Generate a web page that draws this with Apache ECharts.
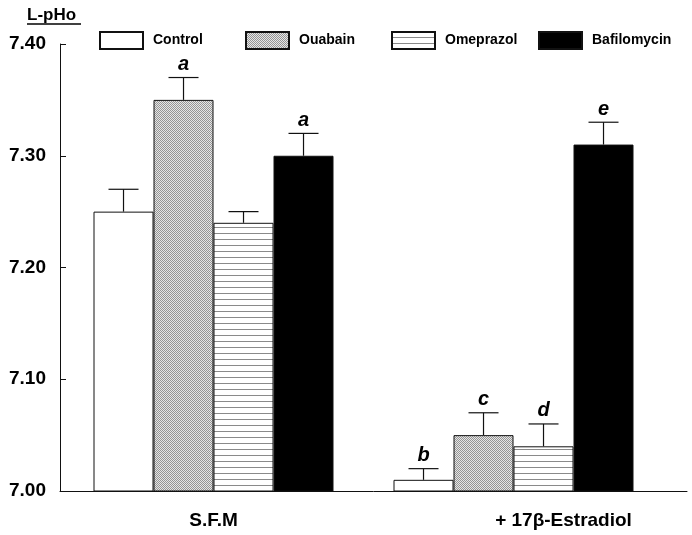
<!DOCTYPE html>
<html>
<head>
<meta charset="utf-8">
<script src="https://cdn.jsdelivr.net/npm/echarts@6/dist/echarts.min.js"></script>
<style>
  html, body { margin: 0; padding: 0; background: #fff; }
  #chart { width: 692px; height: 535px; }
</style>
</head>
<body>
<div id="chart"></div>
<script>
// groups sit at positions 1 and 2 on the x axis
const groups = ['S.F.M', '+ 17β-Estradiol']
const groupPos = [1, 2]
const seriesNames = ['Control', 'Ouabain', 'Omeprazol', 'Bafilomycin']

const control = [7.25, 7.01]
const ouabain = [7.35, 7.05]
const omeprazol = [7.24, 7.04]
const bafilomycin = [7.30, 7.31]

const controlErr = [0.02, 0.01]
const ouabainErr = [0.02, 0.02]
const omeprazolErr = [0.01, 0.02]
const bafilomycinErr = [0.02, 0.02]

const controlSig = ['', 'b']
const ouabainSig = ['a', 'c']
const omeprazolSig = ['', 'd']
const bafilomycinSig = ['a', 'e']

const yTicks = ['7.00', '7.10', '7.20', '7.30', '7.40']

const BAR_W = 60
const FONT = '"Liberation Sans", Arial, sans-serif'

function dotPattern() {
  const c = document.createElement('canvas')
  c.width = 2
  c.height = 2
  const ctx = c.getContext('2d')
  ctx.fillStyle = '#e6e6e6'
  ctx.fillRect(0, 0, 2, 2)
  ctx.fillStyle = '#959595'
  ctx.fillRect(0, 0, 1, 1)
  ctx.fillRect(1, 1, 1, 1)
  return c
}

function linePattern() {
  const c = document.createElement('canvas')
  c.width = 8
  c.height = 6
  const ctx = c.getContext('2d')
  ctx.fillStyle = '#ffffff'
  ctx.fillRect(0, 0, 8, 6)
  ctx.fillStyle = '#8a8a8a'
  ctx.fillRect(0, 5, 8, 1)
  return c
}

const values = [control, ouabain, omeprazol, bafilomycin]
const errors = [controlErr, ouabainErr, omeprazolErr, bafilomycinErr]
const sigs = [controlSig, ouabainSig, omeprazolSig, bafilomycinSig]
const fills = [
  '#ffffff',
  { image: dotPattern(), repeat: 'repeat' },
  { image: linePattern(), repeat: 'repeat' },
  '#000000'
]

const barSeries = seriesNames.map((name, si) => ({
  name: name,
  type: 'bar',
  barWidth: BAR_W,
  barGap: '0%',
  itemStyle: { color: fills[si], borderColor: '#111', borderWidth: 1 },
  data: values[si].map((v, gi) => [groupPos[gi], v]),
  z: 2
}))

// error bars + significance letters
const errData = []
seriesNames.forEach((name, si) => {
  values[si].forEach((v, gi) => {
    errData.push([groupPos[gi], si, v, errors[si][gi], gi])
  })
})

const errSeries = {
  type: 'custom',
  silent: true,
  z: 3,
  encode: { x: 0, y: 2 },
  data: errData,
  renderItem(params, api) {
    const x = api.value(0)
    const si = api.value(1)
    const v = api.value(2)
    const e = api.value(3)
    const gi = api.value(4)
    const base = api.coord([x, v])
    const top = api.coord([x, v + e])
    const cx = base[0] + (si - 1.5) * BAR_W
    const children = [
      { type: 'line', shape: { x1: cx, y1: base[1], x2: cx, y2: top[1] }, style: { stroke: '#111', lineWidth: 1.2 } },
      { type: 'line', shape: { x1: cx - 15, y1: top[1], x2: cx + 15, y2: top[1] }, style: { stroke: '#111', lineWidth: 1.2 } }
    ]
    const letter = sigs[si][gi]
    if (letter) {
      children.push({
        type: 'text',
        style: {
          text: letter,
          x: cx,
          y: top[1] - 3,
          align: 'center',
          verticalAlign: 'bottom',
          font: 'italic bold 20px ' + FONT,
          fill: '#000'
        }
      })
    }
    return { type: 'group', children: children }
  }
}

// one legend per item so the spacing matches the original
const legendLeft = [94, 240, 386, 533]
const legends = seriesNames.map((name, i) => ({
  data: [name],
  left: legendLeft[i],
  top: 26,
  icon: 'rect',
  itemWidth: 43,
  itemHeight: 17,
  selectedMode: false,
  textStyle: { fontSize: 14, fontWeight: 'bold', color: '#000', padding: [3, 0, 0, 5] }
}))

const chart = echarts.init(document.getElementById('chart'))
chart.setOption({
  animation: false,
  backgroundColor: '#fff',
  textStyle: { fontFamily: FONT },
  title: {
    text: 'L-pHo',
    left: 22,
    top: 2,
    textStyle: { fontSize: 17, fontWeight: 'bold', color: '#000' }
  },
  graphic: [
    { type: 'line', shape: { x1: 27, y1: 24, x2: 81, y2: 24 }, style: { stroke: '#000', lineWidth: 1.3 } }
  ],
  legend: legends,
  grid: { left: 60, right: 5, top: 44, bottom: 44 },
  xAxis: {
    type: 'value',
    min: 0.4883,
    max: 2.5783,
    splitLine: { show: false },
    axisLine: { show: true, lineStyle: { color: '#111', width: 1 } },
    axisTick: { show: false },
    axisLabel: {
      customValues: groupPos,
      margin: 20,
      formatter(v) {
        const i = groupPos.indexOf(v)
        return i === 1 ? '{e|' + groups[i] + '}' : '{s|' + groups[i] + '}'
      },
      rich: {
        s: { fontSize: 19, fontWeight: 'bold', color: '#000' },
        e: { fontSize: 19, fontWeight: 'bold', color: '#000', padding: [0, 0, 0, 100] }
      }
    }
  },
  yAxis: {
    type: 'value',
    min: 7.0,
    max: 7.4,
    interval: 0.1,
    splitLine: { show: false },
    axisLine: { show: true, lineStyle: { color: '#111', width: 1 } },
    axisTick: { show: true, inside: true, length: 6, lineStyle: { color: '#111' } },
    axisLabel: {
      margin: 14,
      fontSize: 19,
      fontWeight: 'bold',
      color: '#000',
      formatter(v) {
        return yTicks[Math.round((v - 7.0) * 10)]
      }
    }
  },
  series: [...barSeries, errSeries]
})
</script>
</body>
</html>
